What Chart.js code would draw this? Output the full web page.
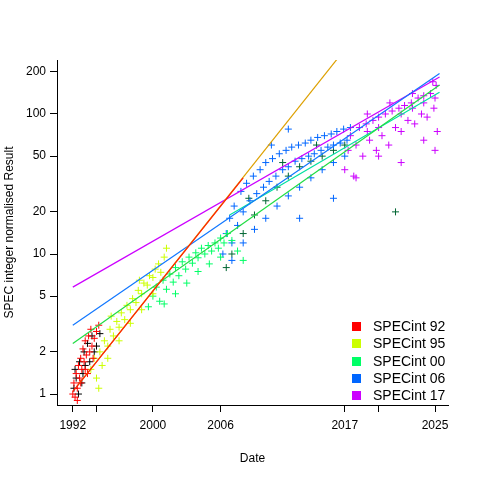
<!DOCTYPE html>
<html><head><meta charset="utf-8">
<script src="https://cdn.jsdelivr.net/npm/chart.js@4"></script>
<style>
body{margin:0;background:#fff;font-family:"Liberation Sans",Arial,sans-serif}
#wrap{position:relative;width:480px;height:480px}
#leg{position:absolute;left:352px;top:318px;font-size:14px;line-height:17.3px}
#leg span{display:inline-block;width:9px;height:9px;margin-right:12px;vertical-align:-0px}
</style></head><body>
<div id="wrap"><canvas id="c" width="480" height="480"></canvas>
<div id="leg"></div></div>
<script>
const names = ['SPECint 92','SPECint 95','SPECint 00','SPECint 06','SPECint 17'];
const colors = ['#ff0000','#ccff00','#00ff66','#0066ff','#cc00ff'];
const tickYears = [1992.9,1995,2000,2006,2017,2020,2025];
const tickNames = ['1992','','2000','2006','2017','','2025'];
const yTicks = [1,2,5,10,20,50,100,200];

const spec92 = [[1992.9,1.0],[1993,1.2],[1993.1,0.95],[1993.2,1.4],[1993.3,1.1],[1993.4,1.6],[1993.5,1.3],[1993.6,1.8],[1993.7,1.5],[1993.8,2.1],[1993.9,1.7],[1994,2.4],[1994.1,1.9],[1994.2,1.4],[1994.3,2.6],[1994.4,2.0],[1994.5,2.9],[1994.6,2.2],[1994.7,1.8],[1994.8,2.5],[1993.3,0.9],[1993.6,1.2],[1994,1.5],[1995,2.8],[1995.2,3.1]];
const base92 = [[1993,1.1],[1993.2,1.3],[1993.4,1.0],[1993.5,1.7],[1993.7,1.2],[1993.9,2.0],[1994,1.6],[1994.2,2.3],[1994.4,1.7],[1994.6,2.6],[1994.8,2.0],[1995,2.2],[1995.3,2.7],[1993.1,1.5],[1993.8,1.4]];
const spec95 = [[1994.5,1.5],[1994.8,1.8],[1995,1.3],[1995.3,2.0],[1995.5,1.6],[1995.7,2.4],[1996,2.2],[1996.2,2.9],[1996.5,2.6],[1996.8,3.3],[1997,3.0],[1997.2,3.8],[1997.5,3.4],[1997.7,4.3],[1998,4.0],[1998.2,4.8],[1998.5,4.5],[1998.7,5.5],[1999,5.2],[1999.2,6.2],[1999.5,6.0],[1999.7,7.0],[2000,6.8],[2000.2,7.8],[2000.5,8.5],[2000.7,7.4],[2001,9.5],[1996,1.8],[1997,2.4],[1998,3.2],[1999,4.0],[2000,5.2],[1995.2,1.1],[1996.3,3.6],[1998.8,6.5],[2001.2,11]];
const spec00 = [[1999.6,4.2],[2000,5.0],[2000.3,5.8],[2000.6,4.6],[2000.9,6.5],[2001.2,5.6],[2001.5,7.2],[2001.8,6.3],[2002,8.0],[2002.3,7.0],[2002.6,8.8],[2002.9,7.8],[2003.2,9.5],[2003.5,8.6],[2003.8,10.2],[2004,9.4],[2004.3,11],[2004.6,10],[2004.9,11.5],[2005.2,10.5],[2005.5,12],[2005.8,11],[2006,13],[2006.3,12],[2006.6,14],[2007,12.5],[2001,4.4],[2002,5.2],[2003,6.2],[2004,7.5],[2005,8.5],[2006,9.5],[2007.5,10.5],[2008,9]];
const spec06 = [[2006.2,10],[2006.5,14],[2006.8,18],[2007,12],[2007.2,22],[2007.5,16],[2007.8,28],[2008,20],[2008.3,32],[2008.6,24],[2008.9,36],[2009.2,27],[2009.5,40],[2009.8,30],[2010,45],[2010.3,33],[2010.6,48],[2010.9,36],[2011.2,52],[2011.5,40],[2011.8,55],[2012,42],[2012.3,58],[2012.6,46],[2012.9,60],[2013.2,48],[2013.5,62],[2013.8,50],[2014,65],[2014.3,52],[2014.6,68],[2014.9,55],[2015.2,70],[2015.5,58],[2015.8,72],[2016,60],[2016.3,75],[2016.6,62],[2016.9,78],[2017.2,65],[2017.5,80],[2008,12],[2009,15],[2010,18],[2011,22],[2012,26],[2013,30],[2014,35],[2015,40],[2016,45],[2017,50],[2012,78],[2007,9],[2010.5,60],[2016,25],[2013,18]];
const base06 = [[2007,10],[2008,14],[2009,19],[2010,24],[2011,30],[2012,36],[2013,42],[2014,46],[2015,50],[2016,55],[2017,60],[2008.5,25],[2011.5,45],[2014.5,60],[2006.5,8],[2021.5,20]];
const spec17 = [[2017,40],[2017.3,55],[2017.5,70],[2017.8,36],[2018,60],[2018.3,80],[2018.6,50],[2018.9,85],[2019.2,65],[2019.5,90],[2019.8,55],[2020,95],[2020.3,70],[2020.6,100],[2020.9,60],[2021.2,105],[2021.5,80],[2021.8,110],[2022,75],[2022.3,115],[2022.6,90],[2022.9,120],[2023.2,85],[2023.5,130],[2023.8,100],[2024,135],[2024.3,95],[2024.6,140],[2024.9,110],[2025.1,160],[2025.2,75],[2025,55],[2018,35],[2020,50],[2022,45],[2024,65],[2019,75],[2023,110],[2024.8,170],[2019,100],[2021,120],[2023,140],[2025,130],[2022,100],[2020,80],[2024,120]];

// fitted trend lines: [colour, start, end]
const fits = [
  ['#ff2000',[1992.9,1.04],[2008,35]],
  ['#dda000',[1993.35,1.16],[2016.4,251]],
  ['#22dd44',[1992.9,2.3],[2025.4,161]],
  ['#1177ff',[1992.9,3.1],[2025.4,195]],
  ['#00e0a0',[2006.8,19],[2025.4,143]],
  ['#cc00ff',[1992.9,5.8],[2025.4,184]]
];

const pts = a => a.map(p => ({x:p[0], y:p[1]}));
const sc = (d, c) => ({type:'scatter', data:pts(d), pointStyle:'cross', pointRadius:3.5,
  borderColor:c, backgroundColor:c, borderWidth:1, order:2});
const datasets = [
  sc(spec92,colors[0]), sc(spec95,colors[1]), sc(spec00,colors[2]),
  sc(spec06,colors[3]), sc(spec17,colors[4]), sc(base92,'#000000'), sc(base06,'#006633')
];
fits.forEach(f => datasets.push({type:'line', data:pts([f[1],f[2]]), borderColor:f[0],
  borderWidth:1.2, pointRadius:0, order:1}));

const font = {family:'"Liberation Sans", Arial, sans-serif', size:12};
new Chart(document.getElementById('c'), {
  type:'scatter',
  data:{datasets},
  options:{
    responsive:false, animation:false,
    layout:{padding:{top:60, right:32, left:0, bottom:0}},
    plugins:{legend:{display:false}, tooltip:{enabled:false}},
    scales:{
      x:{type:'linear', min:1991.5, max:2026.15,
        afterBuildTicks:s => { s.ticks = tickYears.map(v => ({value:v})); },
        afterFit:s => { s.height = 75; },
        ticks:{color:'#000', font, padding:6, maxRotation:0, autoSkip:false,
          callback:(v,i) => tickNames[i]},
        grid:{drawOnChartArea:false, color:'#000', tickLength:7},
        border:{color:'#000'},
        title:{display:true, text:'Date', color:'#000', font, padding:{top:10,bottom:14}}},
      y:{type:'logarithmic', min:0.835, max:243,
        afterBuildTicks:s => { s.ticks = yTicks.map(v => ({value:v})); },
        afterFit:s => { s.width = 57; },
        ticks:{color:'#000', font, padding:4, autoSkip:false, callback:v => String(v)},
        grid:{drawOnChartArea:false, color:'#000', tickLength:7},
        border:{color:'#000'},
        title:{display:true, text:'SPEC integer normalised Result', color:'#000', font, padding:{top:2,bottom:0}}}
    }
  }
});
document.getElementById('leg').innerHTML = names.map((n,i) =>
  `<div><span style="background:${colors[i]}"></span>${n}</div>`).join('');
</script></body></html>
